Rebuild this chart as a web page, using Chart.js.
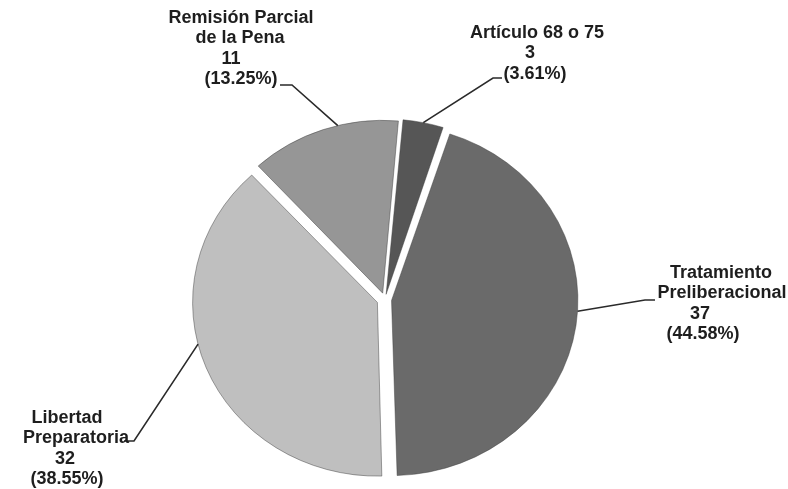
<!DOCTYPE html>
<html>
<head>
<meta charset="utf-8">
<script src="https://cdn.jsdelivr.net/npm/chart.js@4.4.1/dist/chart.umd.min.js"></script>
<style>
  html, body { margin: 0; padding: 0; background: #ffffff; }
  #wrap { width: 788px; height: 489px; }
</style>
</head>
<body>
<div id="wrap"><canvas id="c" width="788" height="489"></canvas></div>
<script>
// ---- data ----
const categories = [
  ["Artículo 68 o 75"],
  ["Tratamiento", "Preliberacional"],
  ["Libertad", "Preparatoria"],
  ["Remisión Parcial", "de la Pena"]
];
const values = [3, 37, 32, 11];

// ---- styling ----
const sliceColors = ["#565656", "#6a6a6a", "#bfbfbf", "#969696"];
const explodePx = [10, 11, 11, 9];          // desired outward shift of each slice, px
const leaderAt = [0.5, 0.47, 0.56, 0.6];     // where along each slice the leader touches it
const ySquash = 0.94;

// label layout: text center x per line, first line y, elbow and end of the leader
const labelLayout = [
  { xs: [537, 530, 535], y0: 33, elbow: [493, 78], end: [502, 78] },
  { xs: [721, 722, 700, 703], y0: 273, elbow: [645, 300], end: [655, 300] },
  { xs: [67, 76, 65, 67], y0: 418, elbow: [134, 441], end: [124, 441] },
  { xs: [241, 240, 231, 241], y0: 18, elbow: [292, 85], end: [280, 85] }
];
const lineH = 20.5;

const total = values.reduce((a, b) => a + b, 0);
// Chart.js v4 arc offset: shift = offset/4 * (1 + (1 - sin(min(PI, circumference))))
const sliceOffsets = values.map((v, i) => {
  const circ = v / total * 2 * Math.PI;
  const fix = 1 - Math.sin(Math.min(Math.PI, circ));
  return explodePx[i] * 4 / (1 + fix);
});

const squashPlugin = {
  id: 'squash',
  beforeDatasetsDraw(chart) {
    const ctx = chart.ctx;
    const ca = chart.chartArea;
    const cx = (ca.left + ca.right) / 2, cy = (ca.top + ca.bottom) / 2;
    ctx.save();
    ctx.translate(cx, cy);
    ctx.scale(1, ySquash);
    ctx.translate(-cx, -cy);
  },
  afterDatasetsDraw(chart) {
    chart.ctx.restore();
  }
};

const labelPlugin = {
  id: 'pieLabels',
  afterDraw(chart) {
    const ctx = chart.ctx;
    const meta = chart.getDatasetMeta(0);
    const ca = chart.chartArea;
    const cy0 = (ca.top + ca.bottom) / 2;
    meta.data.forEach((arc, i) => {
      const p = arc.getProps(['x', 'y', 'startAngle', 'endAngle', 'outerRadius'], true);
      const mid = (p.startAngle + p.endAngle) / 2;
      const a = p.startAngle + (p.endAngle - p.startAngle) * leaderAt[i];
      const ox = p.x + Math.cos(mid) * explodePx[i];
      const oy = p.y + Math.sin(mid) * explodePx[i];
      const ax = ox + Math.cos(a) * p.outerRadius;
      const ay = cy0 + (oy + Math.sin(a) * p.outerRadius - cy0) * ySquash;
      const L = labelLayout[i];
      ctx.save();
      ctx.strokeStyle = '#2a2a2a';
      ctx.lineWidth = 1.6;
      ctx.beginPath();
      ctx.moveTo(ax, ay);
      ctx.lineTo(L.elbow[0], L.elbow[1]);
      ctx.lineTo(L.end[0], L.end[1]);
      ctx.stroke();
      const lines = categories[i].concat([String(values[i]), '(' + (values[i] / total * 100).toFixed(2) + '%)']);
      ctx.fillStyle = '#1e1e1e';
      ctx.font = 'bold 18px "Liberation Sans", Arial, sans-serif';
      ctx.textAlign = 'center';
      ctx.textBaseline = 'middle';
      lines.forEach((t, k) => {
        ctx.fillText(t, L.xs[k], L.y0 + k * lineH);
      });
      ctx.restore();
    });
  }
};

new Chart(document.getElementById('c'), {
  type: 'pie',
  data: {
    labels: categories,
    datasets: [{
      data: values,
      backgroundColor: sliceColors,
      borderColor: 'rgba(60,60,60,0.6)',
      borderWidth: 0.8,
      offset: sliceOffsets
    }]
  },
  options: {
    responsive: false,
    animation: false,
    devicePixelRatio: 1,
    rotation: 5,
    radius: 182,
    layout: { padding: { left: 0, right: 18, top: 110, bottom: 0 } },
    plugins: {
      legend: { display: false },
      tooltip: { enabled: false }
    }
  },
  plugins: [squashPlugin, labelPlugin]
});
</script>
</body>
</html>
